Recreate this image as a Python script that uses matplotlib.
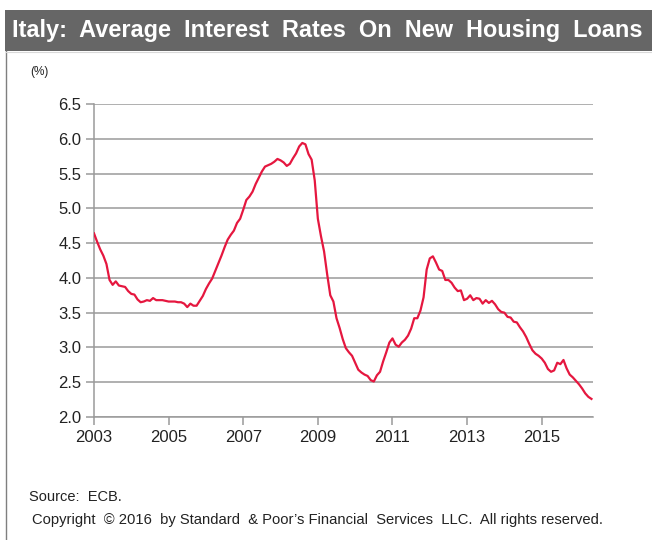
import numpy as np
import matplotlib.pyplot as plt
from matplotlib.patches import Rectangle
from matplotlib.lines import Line2D

plt.rcParams['font.family'] = ['Liberation Sans', 'DejaVu Sans']

# monthly average rate on new housing loans (%), Jan 2003 onwards
rates_2003 = [4.64, 4.52, 4.41, 4.32, 4.20, 3.97, 3.90, 3.95, 3.89, 3.88, 3.87, 3.81]
rates_2004 = [3.77, 3.76, 3.69, 3.65, 3.66, 3.68, 3.67, 3.71, 3.68, 3.68, 3.68, 3.67]
rates_2005 = [3.66, 3.66, 3.66, 3.65, 3.65, 3.63, 3.58, 3.63, 3.60, 3.60, 3.67, 3.74]
rates_2006 = [3.84, 3.92, 3.99, 4.10, 4.21, 4.32, 4.44, 4.55, 4.62, 4.68, 4.79, 4.85]
rates_2007 = [4.98, 5.12, 5.17, 5.24, 5.35, 5.44, 5.53, 5.60, 5.62, 5.64, 5.67, 5.71]
rates_2008 = [5.69, 5.66, 5.61, 5.64, 5.72, 5.79, 5.89, 5.94, 5.92, 5.78, 5.70, 5.40]
rates_2009 = [4.85, 4.60, 4.38, 4.05, 3.75, 3.66, 3.42, 3.28, 3.12, 2.99, 2.93, 2.88]
rates_2010 = [2.78, 2.68, 2.64, 2.61, 2.59, 2.53, 2.51, 2.60, 2.65, 2.80, 2.93, 3.07]
rates_2011 = [3.13, 3.04, 3.01, 3.07, 3.11, 3.17, 3.27, 3.42, 3.42, 3.53, 3.72, 4.12]
rates_2012 = [4.28, 4.31, 4.22, 4.12, 4.10, 3.97, 3.97, 3.93, 3.86, 3.81, 3.82, 3.68]
rates_2013 = [3.70, 3.75, 3.68, 3.71, 3.70, 3.63, 3.68, 3.64, 3.67, 3.62, 3.55, 3.51]
rates_2014 = [3.50, 3.44, 3.43, 3.37, 3.36, 3.29, 3.23, 3.15, 3.05, 2.96, 2.91, 2.88]
rates_2015 = [2.84, 2.78, 2.69, 2.65, 2.67, 2.78, 2.76, 2.82, 2.70, 2.61, 2.57, 2.52]
rates_2016 = [2.47, 2.41, 2.34, 2.29, 2.26]

rates = np.array(rates_2003 + rates_2004 + rates_2005 + rates_2006 + rates_2007
                 + rates_2008 + rates_2009 + rates_2010 + rates_2011 + rates_2012
                 + rates_2013 + rates_2014 + rates_2015 + rates_2016)
years = 2003 + np.arange(len(rates)) / 12.0

year_ticks = [2003, 2005, 2007, 2009, 2011, 2013, 2015]
rate_ticks = [2.0, 2.5, 3.0, 3.5, 4.0, 4.5, 5.0, 5.5, 6.0, 6.5]

title = "Italy:  Average  Interest  Rates  On  New  Housing  Loans"
source = "Source:  ECB."
copyright_text = "Copyright  \u00a9 2016  by Standard  & Poor\u2019s Financial  Services  LLC.  All rights reserved."

fig = plt.figure(figsize=(6.52, 5.40), dpi=100)

# title bar and frame
fig.patches.append(Rectangle((5 / 652, 1 - 51 / 540), 1, 41 / 540, transform=fig.transFigure,
                             facecolor='#666666', edgecolor='none'))
fig.lines.append(Line2D([6 / 652, 6 / 652], [0, 1 - 51 / 540], transform=fig.transFigure,
                        color='#7f7f7f', lw=1))
fig.lines.append(Line2D([6 / 652, 1], [1 - 51.5 / 540, 1 - 51.5 / 540], transform=fig.transFigure,
                        color='#d9d9d9', lw=0.8))
fig.text(12 / 652, 1 - 31 / 540, title, color='white', fontsize=16.9, fontweight='bold',
         va='center', ha='left')

ax = fig.add_axes([94 / 652, 123 / 540, (592.7 - 94) / 652, 313 / 540])
ax.plot(years, rates, color='#e5173f', lw=1.6, solid_joinstyle='round', zorder=3)

ax.set_xlim(2003, 2003 + 160.4 / 12)
ax.set_ylim(2.0, 6.5)
ax.set_xticks(year_ticks)
ax.set_xticklabels([str(y) for y in year_ticks])
ax.set_yticks(rate_ticks)
ax.set_yticklabels(['%.1f' % v for v in rate_ticks])
ax.yaxis.grid(True, color='#9a9a9a', lw=1.1)
ax.set_axisbelow(True)

for side in ['top', 'right']:
    ax.spines[side].set_visible(False)
for side in ['left', 'bottom']:
    ax.spines[side].set_color('#9a9a9a')
    ax.spines[side].set_linewidth(1.1)
ax.tick_params(axis='both', colors='#9a9a9a', labelcolor='#222222', labelsize=12,
               length=6, width=1.1, pad=3)

fig.text(30 / 652, 1 - 72 / 540, "(%)", fontsize=8.5, color='#222222', va='center')
fig.text(29 / 652, 1 - 497 / 540, source, fontsize=10.5, color='#222222', va='center')
fig.text(32 / 652, 1 - 520 / 540, copyright_text, fontsize=10.6, color='#222222', va='center')

fig.savefig('out.png', dpi=100)
